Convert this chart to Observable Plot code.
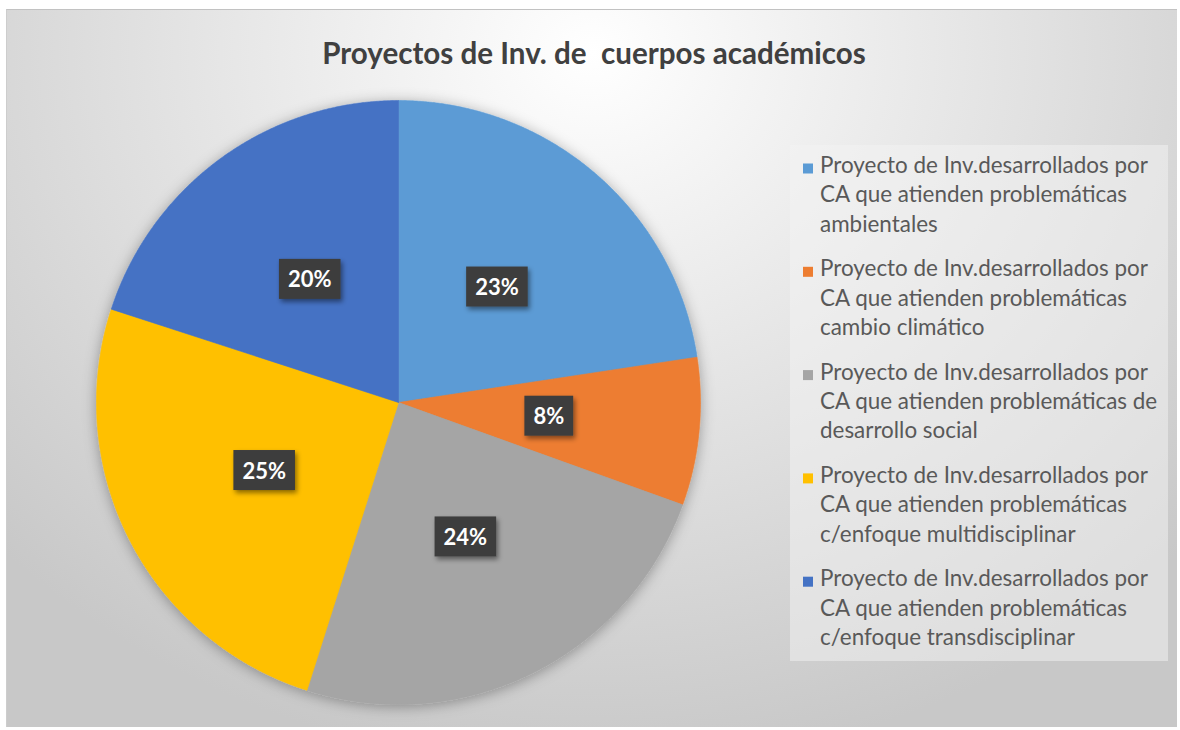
<!DOCTYPE html>
<html>
<head>
<meta charset="utf-8">
<script src="https://cdn.jsdelivr.net/npm/d3@7"></script>
<script src="https://cdn.jsdelivr.net/npm/@observablehq/plot@0.6"></script>
<style>
  html, body { margin: 0; padding: 0; background: #ffffff; }
  #wrap { position: relative; width: 1180px; height: 730px; overflow: hidden; }
  #bg {
    position: absolute; left: 6px; top: 9px; width: 1171px; height: 718px;
    box-sizing: border-box; border-top: 1px solid #c2c2c2; border-left: 1px solid #cdcdcd;
    background: radial-gradient(ellipse 70% 100% at 50% 6%, #ffffff 0%, #f5f5f5 18%, #c8c8c8 100%);
  }
  #legendBox {
    position: absolute; left: 790px; top: 145px; width: 378px; height: 516px;
    background: rgba(244,244,244,0.5);
  }
  #wrap svg.chart { position: absolute; left: 0; top: 0; }
</style>
</head>
<body>
<div id="wrap"><div id="bg"></div><div id="legendBox"></div></div>
<script>
// ---- data ----
const title = "Proyectos de Inv. de  cuerpos académicos";
const categories = [
  "Proyecto de Inv.desarrollados por CA que atienden problemáticas ambientales",
  "Proyecto de Inv.desarrollados por CA que atienden problemáticas cambio climático",
  "Proyecto de Inv.desarrollados por CA que atienden problemáticas de desarrollo social",
  "Proyecto de Inv.desarrollados por CA que atienden problemáticas c/enfoque multidisciplinar",
  "Proyecto de Inv.desarrollados por CA que atienden problemáticas c/enfoque transdisciplinar"
];
const values = [22.6, 7.9, 24.4, 25.1, 20.0];
const colors = ["#5B9BD5", "#ED7D31", "#A5A5A5", "#FFC000", "#4472C4"];

// ---- layout ----
const W = 1180, H = 730;
const FONT = "Lato, 'Open Sans', sans-serif";
const cx = 398, cy = 402, R = 302;

const rows = categories.map((c, i) => ({category: c, value: values[i]}));
const total = d3.sum(values);
const arcs = d3.pie().sort(null).value(d => d.value)(rows);

// wedge outlines in unit-circle coordinates (angle clockwise from 12 o'clock)
const wedgePts = arcs.flatMap(a => {
  const n = Math.max(4, Math.ceil((a.endAngle - a.startAngle) / (Math.PI / 720)));
  const pts = [{category: a.data.category, x: 0, y: 0}];
  for (let i = 0; i <= n; i++) {
    const t = a.startAngle + (a.endAngle - a.startAngle) * i / n;
    pts.push({category: a.data.category, x: Math.sin(t), y: Math.cos(t)});
  }
  pts.push({category: a.data.category, x: 0, y: 0});
  return pts;
});
const labelRows = arcs.map(a => {
  const m = (a.startAngle + a.endAngle) / 2;
  return {x: 0.5 * Math.sin(m), y: 0.5 * Math.cos(m), label: Math.round(a.data.value / total * 100) + "%"};
});

const plot = Plot.plot({
  width: W, height: H, margin: 0,
  className: "chart",
  x: {domain: [-1, 1], range: [cx - R, cx + R], axis: null},
  y: {domain: [-1, 1], range: [cy + R, cy - R], axis: null},
  color: {domain: categories, range: colors},
  style: {background: "transparent", overflow: "visible"},
  marks: [
    Plot.line(wedgePts, {x: "x", y: "y", z: "category", fill: "category", stroke: "category", strokeWidth: 0.6}),
    Plot.text(labelRows, {x: "x", y: "y", text: "label", fill: "white", fontWeight: "bold", fontSize: 22, fontFamily: FONT})
  ]
});
plot.classList.add("chart");
document.getElementById("wrap").appendChild(plot);

const svg = d3.select(plot);
const defs = svg.insert("defs", ":first-child");
defs.append("filter").attr("id", "pieShadow")
  .attr("x", "-20%").attr("y", "-20%").attr("width", "140%").attr("height", "140%")
  .append("feDropShadow").attr("dx", 0).attr("dy", 2).attr("stdDeviation", 7)
  .attr("flood-color", "#000").attr("flood-opacity", 0.33);
defs.append("filter").attr("id", "boxShadow")
  .attr("x", "-30%").attr("y", "-30%").attr("width", "160%").attr("height", "160%")
  .append("feDropShadow").attr("dx", 2).attr("dy", 3).attr("stdDeviation", 2.5)
  .attr("flood-color", "#000").attr("flood-opacity", 0.45);

svg.select('g[aria-label="line"]').attr("filter", "url(#pieShadow)");

// dark label boxes behind the percentage texts
const tg = plot.querySelector('g[aria-label="text"]');
tg.querySelectorAll("text").forEach(t => {
  const b = t.getBBox();
  const r = document.createElementNS("http://www.w3.org/2000/svg", "rect");
  const padX = 9, h = 40;
  r.setAttribute("x", b.x - padX);
  r.setAttribute("y", b.y + b.height / 2 - h / 2);
  r.setAttribute("width", b.width + 2 * padX);
  r.setAttribute("height", h);
  r.setAttribute("fill", "#3d3d3d");
  r.setAttribute("filter", "url(#boxShadow)");
  if (t.getAttribute("transform")) r.setAttribute("transform", t.getAttribute("transform"));
  tg.insertBefore(r, t);
});

// text measuring helper
const ctx = document.createElement("canvas").getContext("2d");
function fit(text, weight, target) {
  ctx.font = `${weight} 100px ${FONT}`;
  return 100 * target / ctx.measureText(text).width;
}
function wrap(text, size, maxW) {
  ctx.font = `normal ${size}px ${FONT}`;
  const words = text.split(" ");
  const lines = [];
  let cur = "";
  for (const w of words) {
    const test = cur ? cur + " " + w : w;
    if (cur && ctx.measureText(test).width > maxW) { lines.push(cur); cur = w; }
    else cur = test;
  }
  if (cur) lines.push(cur);
  return lines;
}

// title
const titleSize = fit(title, "bold", 544);
svg.append("text")
  .attr("x", 594).attr("y", 64)
  .attr("text-anchor", "middle")
  .attr("font-family", FONT).attr("font-weight", "bold").attr("font-size", titleSize)
  .attr("fill", "#404040").attr("xml:space", "preserve").style("white-space", "pre")
  .text(title);

// legend
const legSize = fit("Proyecto de Inv.desarrollados por", "normal", 328);
const lg = svg.append("g").attr("aria-label", "legend").attr("text-anchor", "start");
categories.forEach((c, k) => {
  const base = 173 + k * 103.3;
  lg.append("rect").attr("x", 803).attr("y", base - 9.5).attr("width", 10).attr("height", 10).attr("fill", colors[k]);
  const lines = wrap(c, legSize, 342);
  const t = lg.append("text").attr("font-family", FONT).attr("font-size", legSize)
    .attr("fill", "#595959").attr("text-anchor", "start");
  lines.forEach((ln, i) => t.append("tspan").attr("x", 820).attr("y", base + i * 29.4).text(ln));
});
</script>
</body>
</html>
